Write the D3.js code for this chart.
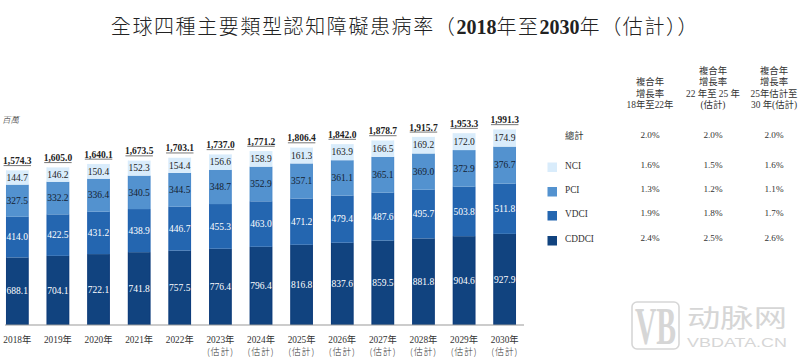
<!DOCTYPE html>
<html>
<head>
<meta charset="utf-8">
<script src="https://cdn.jsdelivr.net/npm/d3@7/dist/d3.min.js"></script>
<style>
    html, body { margin: 0; padding: 0; background: #fff; }
    svg { display: block; }
    text { font-family: "Liberation Serif", "Noto Sans CJK TC", serif; fill: #222; }
    .cjk { font-family: "Liberation Serif", "Noto Sans CJK TC", sans-serif; font-weight: 300; }
</style>
</head>
<body>
<div id="chart"></div>
<script>
const years = ['2018', '2019', '2020', '2021', '2022', '2023', '2024', '2025', '2026', '2027', '2028', '2029', '2030'];
const estimated = ['2023', '2024', '2025', '2026', '2027', '2028', '2029', '2030'];
const seriesNames = ['CDDCI', 'VDCI', 'PCI', 'NCI'];
const cddci = [688.1, 704.1, 722.1, 741.8, 757.5, 776.4, 796.4, 816.8, 837.6, 859.5, 881.8, 904.6, 927.9];
const vdci = [414.0, 422.5, 431.2, 438.9, 446.7, 455.3, 463.0, 471.2, 479.4, 487.6, 495.7, 503.8, 511.8];
const pci = [327.5, 332.2, 336.4, 340.5, 344.5, 348.7, 352.9, 357.1, 361.1, 365.1, 369.0, 372.9, 376.7];
const nci = [144.7, 146.2, 150.4, 152.3, 154.4, 156.6, 158.9, 161.3, 163.9, 166.5, 169.2, 172.0, 174.9];
const totals = ['1,574.3', '1,605.0', '1,640.1', '1,673.5', '1,703.1', '1,737.0', '1,771.2', '1,806.4', '1,842.0', '1,878.7', '1,915.7', '1,953.3', '1,991.3'];

const tableHeaders = [
    ['複合年', '增長率', '18年至22年'],
    ['複合年', '增長率', '22 年至 25 年', '(估計)'],
    ['複合年', '增長率', '25年估計至', '30 年(估計)']
];
const tableRows = ['總計', 'NCI', 'PCI', 'VDCI', 'CDDCI'];
const tableValues = [
    ['2.0%', '2.0%', '2.0%'],
    ['1.6%', '1.5%', '1.6%'],
    ['1.3%', '1.2%', '1.1%'],
    ['1.9%', '1.8%', '1.7%'],
    ['2.4%', '2.5%', '2.6%']
];

const colors = { CDDCI: '#11437f', VDCI: '#2466b0', PCI: '#5392cf', NCI: '#d9ecfb' };
const edges = { CDDCI: '#0c3a78', VDCI: '#1f5fae', PCI: '#4d8ccb', NCI: '#d9ecfb' };
const labelColors = { CDDCI: '#fff', VDCI: '#fff', PCI: '#14212f', NCI: '#222' };

const width = 800, height = 360;
const svg = d3.select('#chart').append('svg').attr('width', width).attr('height', height);

//Title
const title = svg.append('text').attr('class', 'cjk')
    .attr('x', 405).attr('y', 34)
    .attr('text-anchor', 'middle')
    .style('font-size', '20px')
    .style('letter-spacing', '1.6px');
title.append('tspan').text('全球四種主要類型認知障礙患病率（');
title.append('tspan').text('2018').style('font-weight', 'bold').style('letter-spacing', '0');
title.append('tspan').text('年至');
title.append('tspan').text('2030').style('font-weight', 'bold').style('letter-spacing', '0');
title.append('tspan').text('年（估計））');

svg.append('text').attr('x', 2).attr('y', 123)
    .style('font-size', '8.5px').style('font-style', 'italic').style('font-family', '"Noto Sans CJK TC"').style('font-weight', 300)
    .text('百萬');

//Scales
const xScale = d3.scaleBand().domain(years).range([-3, 525]).paddingInner(0.447).paddingOuter(0.2235);
const yScale = d3.scaleLinear().domain([0, 2000]).range([325, 128.6]);

const rows = years.map((y, i) => ({ year: y, CDDCI: cddci[i], VDCI: vdci[i], PCI: pci[i], NCI: nci[i], total: totals[i] }));
const stacked = d3.stack().keys(seriesNames)(rows);

const layers = svg.append('g').selectAll('g').data(stacked).enter().append('g');
layers.selectAll('rect').data(d => d.map(p => ({ key: d.key, p: p }))).enter().append('rect')
    .attr('x', d => xScale(d.p.data.year))
    .attr('y', d => yScale(d.p[1]))
    .attr('width', xScale.bandwidth())
    .attr('height', d => yScale(d.p[0]) - yScale(d.p[1]))
    .attr('fill', d => colors[d.key]);
//thin darker side edges like the reference
layers.selectAll('path').data(d => d.map(p => ({ key: d.key, p: p }))).enter().append('path')
    .attr('fill', 'none')
    .attr('stroke', d => edges[d.key])
    .attr('stroke-width', 0.8)
    .attr('d', d => {
        let x0 = xScale(d.p.data.year) + 0.4, x1 = x0 + xScale.bandwidth() - 0.8;
        return 'M' + x0 + ',' + yScale(d.p[1]) + 'V' + yScale(d.p[0]) + 'M' + x1 + ',' + yScale(d.p[1]) + 'V' + yScale(d.p[0]);
    });
//Segment labels go on top of every layer
const labelG = svg.append('g').selectAll('g').data(stacked).enter().append('g');
labelG.selectAll('text').data(d => d.map(p => ({ key: d.key, p: p }))).enter().append('text')
    .attr('x', d => xScale(d.p.data.year) + xScale.bandwidth() / 2)
    .attr('y', d => (yScale(d.p[0]) + yScale(d.p[1])) / 2 + 3.2)
    .attr('text-anchor', 'middle')
    .style('font-size', '9.5px')
    .style('fill', d => labelColors[d.key])
    .text(d => (d.p[1] - d.p[0]).toFixed(1));

//Totals, underlined
const topY = i => yScale(cddci[i] + vdci[i] + pci[i] + nci[i]);
const totalLabels = svg.append('g').selectAll('g').data(rows).enter().append('g');
totalLabels.append('text')
    .attr('x', d => xScale(d.year) + xScale.bandwidth() / 2)
    .attr('y', (d, i) => topY(i) - 6.3)
    .attr('text-anchor', 'middle')
    .style('font-size', '9.5px').style('font-weight', 'bold')
    .text(d => d.total);
totalLabels.append('line')
    .attr('x1', d => xScale(d.year) - 2.5)
    .attr('x2', d => xScale(d.year) + xScale.bandwidth() + 2.5)
    .attr('y1', (d, i) => topY(i) - 4.8)
    .attr('y2', (d, i) => topY(i) - 4.8)
    .attr('stroke', '#555').attr('stroke-width', 0.8);

//X axis
const xAxis = d3.axisBottom(xScale).tickSize(0).tickPadding(0).tickFormat(d => d + '年');
const axisG = svg.append('g').attr('transform', 'translate(0,325)').call(xAxis);
axisG.select('.domain').remove();
axisG.append('line').attr('x1', 5).attr('x2', 524).attr('stroke', '#999').attr('stroke-width', 1);
axisG.selectAll('.tick text')
    .attr('y', 18).attr('dy', 0)
    .style('font-size', '9.3px').style('font-family', '"Liberation Serif", "Noto Sans CJK TC"').style('fill', '#333');
axisG.selectAll('.tick').filter(d => estimated.includes(d)).append('text')
    .attr('y', 29.5).attr('text-anchor', 'middle')
    .style('font-size', '9px').style('font-family', '"Noto Sans CJK TC"').style('fill', '#333').style('font-weight', 300)
    .style('letter-spacing', '0.8px')
    .text('(估計)');

//Growth table
const colX = d3.scaleOrdinal().domain([0, 1, 2]).range([650, 713, 774]);
const rowY = d3.scaleOrdinal().domain(tableRows).range([138.5, 168.5, 193, 217, 242]);
const headerG = svg.append('g');
tableHeaders.forEach((lines, c) => {
    const bottom = 108;
    lines.forEach((line, i) => {
        headerG.append('text')
            .attr('x', colX(c))
            .attr('y', bottom - (lines.length - 1 - i) * 11.4)
            .attr('text-anchor', 'middle')
            .style('font-size', '9.4px').style('font-family', '"Liberation Serif", "Noto Sans CJK TC"').style('font-weight', 400)
            .style('fill', '#333')
            .text(line);
    });
});

const tableG = svg.append('g').selectAll('g').data(tableRows).enter().append('g');
tableG.append('text')
    .attr('x', 565).attr('y', d => rowY(d))
    .style('font-size', '9.3px').style('font-family', '"Liberation Serif", "Noto Sans CJK TC"').style('fill', '#333')
    .text(d => d);
tableG.filter(d => d !== '總計').append('rect')
    .attr('x', 547.5).attr('y', d => rowY(d) - 6)
    .attr('width', 9.5).attr('height', 9.5)
    .attr('fill', d => colors[d]);
tableG.each(function (d, r) {
    d3.select(this).selectAll('text.val').data(tableValues[r]).enter().append('text')
        .attr('class', 'val')
        .attr('x', (v, c) => colX(c))
        .attr('y', rowY(d) - 1)
        .attr('text-anchor', 'middle')
        .style('font-size', '9.2px').style('fill', '#333')
        .text(v => v);
});

//Watermark
const mark = svg.append('g');
mark.append('rect').attr('x', 632).attr('y', 302).attr('width', 47).attr('height', 47).attr('rx', 5)
    .attr('fill', 'none').attr('stroke', '#d6d6d6').attr('stroke-width', 1.6);
mark.append('text')
    .attr('transform', 'translate(655.5,344) scale(0.57,1)')
    .attr('text-anchor', 'middle')
    .style('font-family', '"Liberation Serif"').style('font-weight', 'bold').style('font-size', '52px').style('fill', '#d6d6d6')
    .text('VB');
mark.append('text').attr('x', 687).attr('y', 327)
    .style('font-family', '"Noto Sans CJK SC"').style('font-size', '25px').style('fill', '#d6d6d6').style('font-weight', 400)
    .attr('textLength', 100).attr('lengthAdjust', 'spacingAndGlyphs')
    .text('动脉网');
mark.append('text').attr('x', 687).attr('y', 346.5)
    .style('font-family', '"Liberation Sans"').style('font-size', '13px').style('fill', '#d6d6d6')
    .attr('textLength', 100).attr('lengthAdjust', 'spacingAndGlyphs')
    .text('VBDATA.CN');
</script>
</body>
</html>
